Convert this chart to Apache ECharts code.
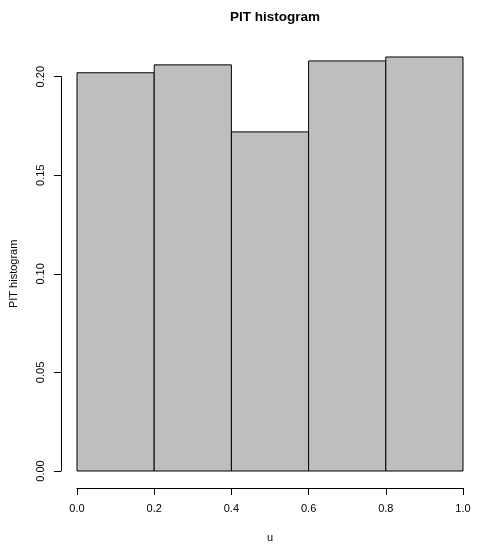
<!DOCTYPE html>
<html>
<head>
<meta charset="utf-8">
<script src="https://cdn.jsdelivr.net/npm/echarts@6/dist/echarts.min.js"></script>
<style>
html,body{margin:0;padding:0;background:#fff;}
#chart{width:479px;height:550px;}
</style>
</head>
<body>
<div id="chart"></div>
<script>
var breaks = [0, 0.2, 0.4, 0.6, 0.8, 1.0];
var values = [0.202, 0.206, 0.172, 0.208, 0.210];
var xTicks = [0, 0.2, 0.4, 0.6, 0.8, 1.0];
var yTicks = [0, 0.05, 0.10, 0.15, 0.20];

var FONT = '"Liberation Sans", Arial, Helvetica, sans-serif';
var chart = echarts.init(document.getElementById('chart'), null, {renderer: 'canvas'});

var barData = values.map(function (v, i) { return [breaks[i], breaks[i + 1], v]; });

chart.setOption({
  backgroundColor: '#ffffff',
  animation: false,
  title: {
    text: 'PIT histogram',
    left: 'center', top: 5,
    textStyle: {fontFamily: FONT, fontSize: 13.5, fontWeight: 'bold', color: '#000'}
  },
  graphic: [],
  grid: {left: 77, top: 76.7, width: 386, height: 394.3, containLabel: false, outerBoundsMode: 'none'},
  xAxis: {
    type: 'value', min: 0, max: 1, interval: 0.2,
    offset: 17,
    name: 'u', nameLocation: 'middle', nameGap: 44,
    nameTextStyle: {fontFamily: FONT, fontSize: 11, color: '#000'},
    axisLine: {show: true, onZero: false, lineStyle: {color: '#000', width: 1}},
    axisTick: {show: true, length: 7, lineStyle: {color: '#000'}},
    axisLabel: {fontFamily: FONT, fontSize: 11, color: '#000', margin: 15,
      formatter: function (v) { return v.toFixed(1); }},
    splitLine: {show: false}
  },
  yAxis: {
    type: 'value', min: 0, max: 0.2, interval: 0.05,
    offset: 16,
    name: 'PIT histogram', nameLocation: 'middle', nameGap: 42,
    nameTextStyle: {fontFamily: FONT, fontSize: 11, color: '#000'},
    axisLine: {show: true, onZero: false, lineStyle: {color: '#000', width: 1}},
    axisTick: {show: true, length: 7, lineStyle: {color: '#000'}},
    axisLabel: {fontFamily: FONT, fontSize: 11, color: '#000', margin: 15, rotate: 90,
      formatter: function (v) { return v.toFixed(2); }},
    splitLine: {show: false}
  },
  series: [{
    type: 'custom',
    clip: false,
    data: barData,
    renderItem: function (params, api) {
      var p0 = api.coord([api.value(0), 0]);
      var p1 = api.coord([api.value(1), api.value(2)]);
      return {
        type: 'rect',
        shape: {x: p0[0], y: p1[1], width: p1[0] - p0[0], height: p0[1] - p1[1]},
        style: {fill: '#BEBEBE', stroke: '#000', lineWidth: 1}
      };
    }
  }]
});
// center title over plot region (x = 270)
var w = chart.getWidth();
chart.setOption({title: {left: 270 - 0, textAlign: 'center'}});
</script>
</body>
</html>
